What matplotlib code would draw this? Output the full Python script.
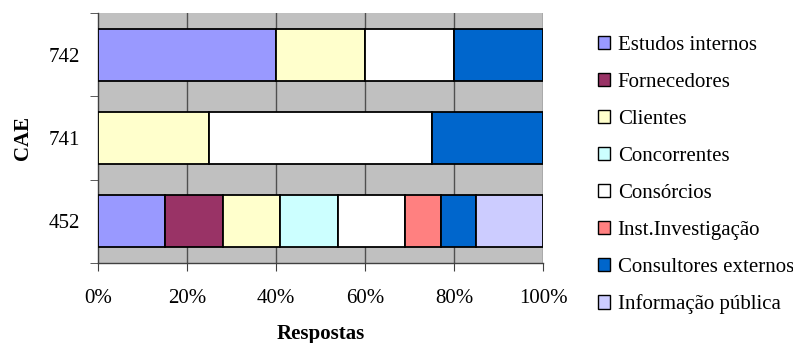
import numpy as np
import matplotlib.pyplot as plt
from matplotlib.patches import Patch

plt.rcParams['font.family'] = ['Liberation Serif', 'DejaVu Serif']

categories = ['452', '741', '742']
sources = ['Estudos internos', 'Fornecedores', 'Clientes', 'Concorrentes',
           'Consórcios', 'Inst.Investigação', 'Consultores externos',
           'Informação pública']
colors = ['#9999FF', '#993366', '#FFFFCC', '#CCFFFF',
          '#FFFFFF', '#FF8080', '#0066CC', '#CCCCFF']

# share (%) of each source per CAE, rows follow categories
shares = np.array([
    [15, 13, 13, 13, 15, 8, 8, 15],   # 452
    [0, 0, 25, 0, 50, 0, 25, 0],      # 741
    [40, 0, 20, 0, 20, 0, 20, 0],     # 742
], dtype=float)

FS = 15

fig = plt.figure(figsize=(7.93, 3.43), dpi=100)
ax = fig.add_axes([0.1236, 0.233, 0.5612, 0.729])
ax.set_facecolor('#C0C0C0')

y = np.arange(len(categories))
left = np.zeros(len(categories))
for j, (name, col) in enumerate(zip(sources, colors)):
    vals = shares[:, j]
    mask = vals > 0
    ax.barh(y[mask], vals[mask], left=left[mask], height=0.625,
            color=col, edgecolor='black', linewidth=1.3, zorder=3)
    left += vals

ax.set_xlim(0, 100)
ax.set_ylim(-0.5, 2.5)
ax.set_xticks(np.arange(0, 101, 20))
ax.set_xticklabels([f'{v}%' for v in range(0, 101, 20)], fontsize=FS)
ax.set_yticks(y)
ax.set_yticklabels(categories, fontsize=FS)
ax.set_yticks(np.arange(-0.5, 2.6, 1), minor=True)
ax.tick_params(axis='y', which='major', length=0, pad=13)
ax.tick_params(axis='y', which='minor', length=5.5, direction='out', color='#404040')
ax.tick_params(axis='x', length=5.5, direction='out', color='#404040', pad=13)

for v in range(20, 101, 20):
    ax.axvline(v, color='#505050', linewidth=1.0, zorder=1)

for s in ['top', 'right']:
    ax.spines[s].set_visible(False)
for s in ['left', 'bottom']:
    ax.spines[s].set_color('#404040')
    ax.spines[s].set_linewidth(1.0)

ax.set_xlabel('Respostas', fontsize=FS, fontweight='bold', labelpad=12)
ax.set_ylabel('CAE', fontsize=FS, fontweight='bold', labelpad=11)

handles = [Patch(facecolor=c, edgecolor='black', linewidth=1.0) for c in colors]
fig.legend(handles, sources, loc='upper left', bbox_to_anchor=(0.754, 0.895),
           frameon=False, fontsize=FS, handlelength=0.6, handleheight=0.6,
           handletextpad=0.35, labelspacing=0.86, borderpad=0,
           borderaxespad=0)

fig.savefig('out.png', dpi=100)
